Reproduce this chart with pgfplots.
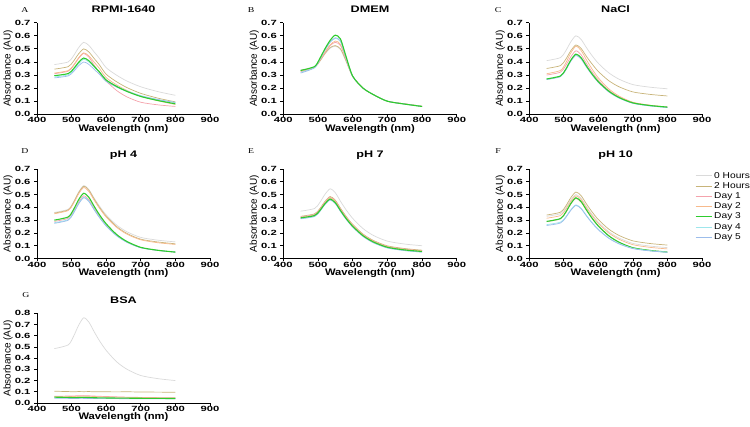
\documentclass[border=0pt]{standalone}
\usepackage{fontspec}
\setmainfont{Liberation Sans}
\usepackage{pgfplots}
\usepackage{pgfplotstable}
\pgfplotsset{compat=1.18}
\newfontfamily\tickfont[FakeStretch=1.5]{Liberation Sans}
\newfontfamily\labfont[FakeStretch=1.18]{Liberation Sans}
\newfontfamily\titfont[FakeStretch=1.33]{Liberation Sans}
\newfontfamily\letfont[FakeStretch=1.3]{Liberation Serif}
\newfontfamily\legfont[FakeStretch=1.2]{Liberation Sans}

\definecolor{c0}{HTML}{DADADA}
\definecolor{c2}{HTML}{C8B47A}
\definecolor{cd1}{HTML}{F4A3AC}
\definecolor{cd2}{HTML}{F7BA8C}
\definecolor{cd3}{HTML}{2ECC2E}
\definecolor{cd4}{HTML}{9EE6EC}
\definecolor{cd5}{HTML}{9CBDEB}

\pgfplotstableread{
wl h0 h2 d1 d2 d3 d4 d5
450 .380 .345 .310 .315 .295 .285 .278
490 .400 .364 .329 .334 .311 .301 .293
505 .445 .404 .369 .374 .346 .336 .324
520 .508 .461 .426 .431 .396 .386 .370
535 .550 .500 .465 .470 .430 .420 .400
550 .526 .476 .437 .446 .409 .400 .381
565 .477 .427 .376 .399 .367 .361 .344
580 .429 .379 .319 .352 .325 .321 .307
600 .356 .306 .254 .280 .262 .262 .251
630 .299 .249 .182 .225 .213 .215 .208
660 .254 .204 .133 .182 .175 .179 .174
700 .210 .160 .092 .138 .136 .143 .140
750 .173 .123 .072 .103 .105 .113 .112
800 .145 .095 .060 .075 .080 .090 .090
}\tA

\pgfplotstableread{
wl h0 h2 d1 d2 d3 d4 d5
450 .340 .335 .325 .330 .335 .320 .315
490 .360 .360 .358 .360 .365 .358 .355
505 .405 .405 .410 .412 .425 .418 .418
520 .460 .465 .470 .475 .500 .490 .490
535 .505 .510 .525 .530 .565 .550 .552
550 .520 .525 .550 .560 .605 .580 .585
565 .495 .500 .525 .535 .575 .555 .560
580 .410 .415 .425 .430 .450 .440 .440
600 .290 .290 .290 .290 .292 .290 .290
630 .200 .200 .200 .200 .200 .200 .200
660 .150 .150 .150 .150 .150 .150 .150
700 .100 .100 .100 .100 .100 .100 .100
750 .080 .080 .080 .078 .078 .078 .078
800 .062 .062 .060 .060 .060 .060 .060
}\tB

\pgfplotstableread{
wl h0 h2 d1 d2 d3 d4 d5
450 .410 .350 .300 .310 .270 .268 .265
490 .433 .372 .322 .335 .293 .291 .287
505 .482 .418 .370 .390 .342 .340 .335
520 .553 .485 .439 .468 .413 .411 .404
535 .600 .530 .485 .520 .460 .458 .450
550 .572 .503 .455 .487 .432 .430 .422
565 .511 .444 .390 .418 .371 .368 .362
580 .454 .390 .330 .353 .314 .311 .307
600 .389 .327 .261 .278 .249 .246 .243
630 .317 .257 .184 .195 .177 .174 .171
660 .268 .210 .132 .139 .128 .125 .124
700 .227 .171 .089 .092 .087 .084 .084
750 .207 .152 .068 .069 .067 .064 .064
800 .195 .140 .055 .055 .055 .052 .052
}\tC

\pgfplotstableread{
wl h0 h2 d1 d2 d3 d4 d5
450 .360 .355 .290 .350 .300 .280 .275
490 .385 .380 .314 .375 .325 .304 .299
505 .440 .435 .366 .428 .380 .356 .351
520 .518 .513 .440 .504 .458 .430 .425
535 .570 .565 .490 .555 .510 .480 .475
550 .539 .534 .459 .524 .478 .450 .445
565 .473 .466 .393 .457 .409 .385 .382
580 .412 .403 .332 .395 .344 .325 .322
600 .341 .331 .261 .324 .271 .256 .254
630 .262 .250 .182 .244 .188 .179 .178
660 .209 .196 .129 .190 .133 .127 .127
700 .165 .151 .085 .146 .087 .084 .084
750 .143 .129 .063 .123 .064 .063 .063
800 .130 .115 .050 .110 .050 .050 .050
}\tD

\pgfplotstableread{
wl h0 h2 d1 d2 d3 d4 d5
450 .370 .330 .325 .320 .318 .310 .312
490 .391 .349 .344 .339 .336 .328 .330
505 .437 .389 .384 .379 .374 .367 .367
520 .501 .446 .441 .436 .428 .423 .422
535 .545 .485 .480 .475 .465 .460 .458
550 .514 .456 .451 .446 .436 .431 .429
565 .447 .393 .388 .384 .375 .370 .368
580 .385 .334 .329 .326 .317 .312 .311
600 .314 .267 .262 .259 .252 .247 .246
630 .234 .191 .186 .185 .178 .173 .172
660 .180 .141 .136 .135 .129 .124 .123
700 .136 .099 .094 .093 .088 .083 .083
750 .113 .078 .073 .072 .067 .062 .062
800 .100 .065 .060 .060 .055 .050 .050
}\tE

\pgfplotstableread{
wl h0 h2 d1 d2 d3 d4 d5
450 .330 .340 .288 .315 .290 .265 .258
490 .350 .362 .310 .336 .312 .284 .277
505 .395 .408 .357 .382 .360 .324 .318
520 .458 .475 .425 .446 .429 .381 .376
535 .500 .520 .470 .490 .475 .420 .415
550 .471 .491 .441 .461 .445 .394 .389
565 .409 .429 .378 .399 .382 .339 .334
580 .351 .371 .319 .341 .322 .287 .283
600 .284 .304 .252 .274 .254 .228 .224
630 .210 .230 .176 .200 .178 .161 .158
660 .160 .180 .126 .150 .127 .117 .114
700 .118 .138 .084 .108 .084 .080 .077
750 .097 .117 .063 .087 .063 .061 .059
800 .085 .105 .050 .075 .050 .050 .048
}\tF

\pgfplotstableread{
wl h0 h2 d1 d2 d3 d4 d5
450 .485 .105 .060 .055 .052 .048 .042
490 .518 .102 .062 .057 .050 .046 .041
505 .590 .100 .063 .058 .048 .045 .040
520 .691 .102 .065 .060 .049 .046 .041
535 .760 .101 .066 .061 .050 .046 .041
550 .721 .102 .064 .060 .049 .045 .040
565 .637 .100 .062 .058 .047 .044 .040
580 .558 .101 .060 .056 .046 .043 .039
600 .469 .100 .058 .054 .045 .043 .039
630 .368 .099 .055 .052 .044 .042 .039
660 .301 .100 .052 .050 .043 .042 .038
700 .245 .098 .050 .048 .042 .041 .038
750 .217 .097 .048 .046 .041 .041 .038
800 .200 .096 .046 .045 .040 .040 .038
}\tG

\newcommand{\curves}[1]{%
  \addplot[c0, line width=0.7pt] table[x=wl,y=h0]{#1};
  \addplot[c2, line width=0.7pt] table[x=wl,y=h2]{#1};
  \addplot[cd1, line width=0.7pt] table[x=wl,y=d1]{#1};
  \addplot[cd2, line width=0.7pt] table[x=wl,y=d2]{#1};
  \addplot[cd4, line width=0.7pt] table[x=wl,y=d4]{#1};
  \addplot[cd5, line width=0.7pt] table[x=wl,y=d5]{#1};
  \addplot[cd3, line width=1.1pt] table[x=wl,y=d3]{#1};
}

\pgfplotsset{
  panel/.style={
    scale only axis, anchor=south west,
    xmin=400, xmax=900, ymin=0, ymax=0.7,
    axis lines=left, axis line style={-, line width=0.9pt, black},
    xtick={400,500,600,700,800,900},
    ytick={0,0.1,0.2,0.3,0.4,0.5,0.6,0.7},
    tick align=outside, major tick length=3pt,
    tick style={black, line width=0.8pt},
    /pgf/number format/assume math mode=true,
    yticklabel style={/pgf/number format/fixed, /pgf/number format/fixed zerofill, /pgf/number format/precision=1},
    xticklabel style={/pgf/number format/1000 sep={}, yshift=3.2pt},
    ticklabel style={font=\tickfont\bfseries\fontsize{7.5}{8}\selectfont},
    xlabel={Wavelength (nm)}, ylabel={Absorbance (AU)},
    xlabel style={at={(axis description cs:0.5,-0.158)}, anchor=center, yshift=0pt, font=\labfont\bfseries\fontsize{9.5}{11}\selectfont},
    ylabel style={at={(axis description cs:-0.168,0.5)}, anchor=center, font=\fontsize{10}{12}\selectfont},
    every axis plot/.append style={smooth, tension=0.45, mark=none},
  }
}

\begin{document}
\begin{tikzpicture}
\path[use as bounding box] (0pt,0pt) rectangle (750pt,-427pt);

\begin{axis}[panel, at={(37pt,-114.3pt)}, width=173pt, height=91.6pt]
\curves{\tA}
\end{axis}
\begin{axis}[panel, at={(283.3pt,-114.3pt)}, width=173.4pt, height=91.6pt]
\curves{\tB}
\end{axis}
\begin{axis}[panel, at={(529.3pt,-114.3pt)}, width=172.7pt, height=91.6pt]
\curves{\tC}
\end{axis}

\begin{axis}[panel, at={(37pt,-258.5pt)}, width=173pt, height=89.5pt]
\curves{\tD}
\end{axis}
\begin{axis}[panel, at={(283.3pt,-258.5pt)}, width=173.4pt, height=89.5pt]
\curves{\tE}
\end{axis}
\begin{axis}[panel, at={(529.3pt,-258.5pt)}, width=172.7pt, height=89.5pt,
  legend style={at={(0.959,0.99)}, anchor=north west, draw=none, fill=none,
    font=\legfont\fontsize{8.5}{9.5}\selectfont, inner sep=0pt, row sep=-1.2pt,
    cells={anchor=west}},
  legend image code/.code={\draw[#1] (0pt,0pt) -- (16pt,0pt);}]
  \addplot[c0, line width=0.7pt] table[x=wl,y=h0]{\tF};
  \addplot[c2, line width=0.7pt] table[x=wl,y=h2]{\tF};
  \addplot[cd1, line width=0.7pt] table[x=wl,y=d1]{\tF};
  \addplot[cd2, line width=0.7pt] table[x=wl,y=d2]{\tF};
  \addplot[cd3, line width=1.1pt] table[x=wl,y=d3]{\tF};
  \addplot[cd4, line width=0.7pt] table[x=wl,y=d4]{\tF};
  \addplot[cd5, line width=0.7pt] table[x=wl,y=d5]{\tF};
  \legend{0 Hours, 2 Hours, Day 1, Day 2, Day 3, Day 4, Day 5}
\end{axis}

\begin{axis}[panel, at={(37pt,-403pt)}, width=173pt, height=89.7pt,
  ymax=0.8, ytick={0,0.1,0.2,0.3,0.4,0.5,0.6,0.7,0.8}]
\curves{\tG}
\end{axis}

\begin{scope}[every node/.style={font=\titfont\bfseries\fontsize{9.5}{11}\selectfont}]
\node at (123.5pt,-9pt) {RPMI-1640};
\node at (370pt,-9pt) {DMEM};
\node at (615.6pt,-9pt) {NaCl};
\node at (123.5pt,-155pt) {pH 4};
\node at (370pt,-155pt) {pH 7};
\node at (615.6pt,-155pt) {pH 10};
\node at (123.5pt,-300pt) {BSA};
\end{scope}

\begin{scope}[every node/.style={font=\letfont\fontsize{7.5}{9}\selectfont}]
\node at (25pt,-10pt) {A};
\node at (251pt,-10pt) {B};
\node at (498pt,-10pt) {C};
\node at (25pt,-151pt) {D};
\node at (251pt,-151pt) {E};
\node at (498pt,-151pt) {F};
\node at (26pt,-295pt) {G};
\end{scope}
\end{tikzpicture}
\end{document}
